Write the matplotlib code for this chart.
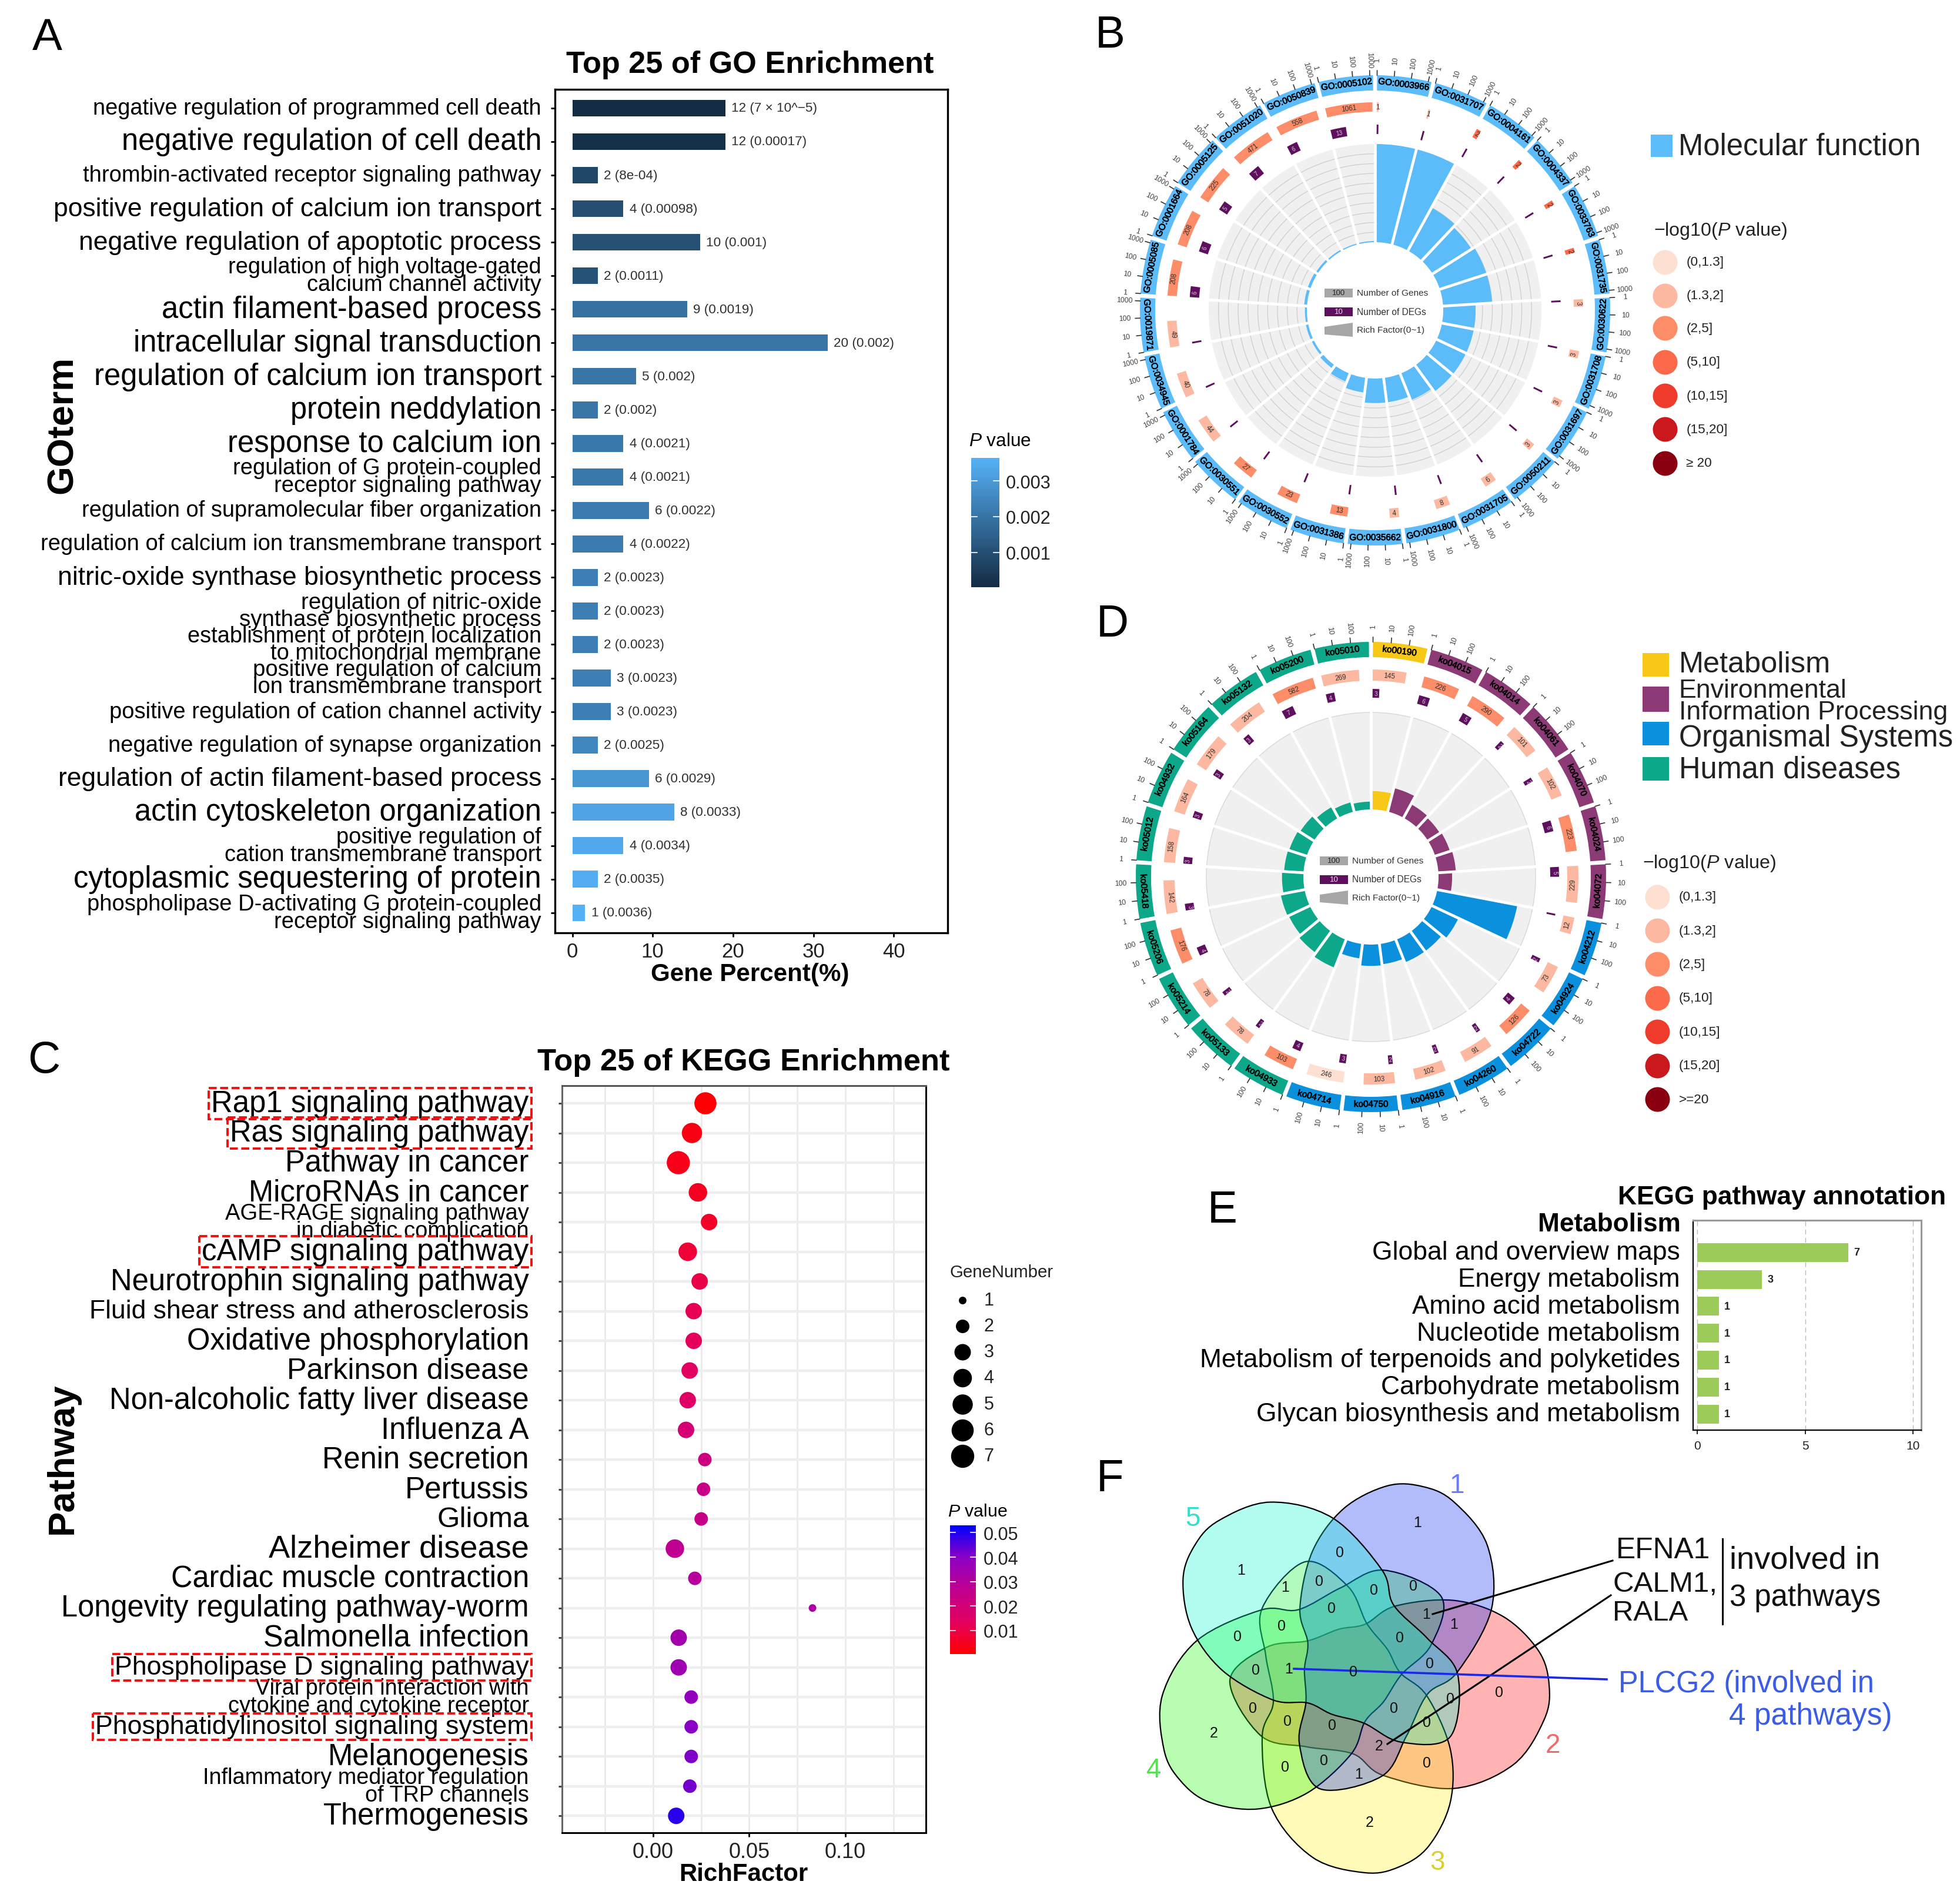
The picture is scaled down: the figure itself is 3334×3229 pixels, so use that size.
import numpy as np
import matplotlib
matplotlib.use('Agg')
import matplotlib.pyplot as plt
import matplotlib.patheffects as pe
from matplotlib.cm import ScalarMappable
from matplotlib.colors import LinearSegmentedColormap, Normalize, to_rgba
from matplotlib.patches import PathPatch, Polygon, Rectangle
from matplotlib.path import Path

plt.rcParams['font.family'] = ['Liberation Sans', 'DejaVu Sans']
plt.rcParams['mathtext.fontset'] = 'custom'
plt.rcParams['mathtext.rm'] = 'Liberation Sans'
plt.rcParams['mathtext.it'] = 'Liberation Sans:italic'
plt.rcParams['mathtext.bf'] = 'Liberation Sans:bold'

# panel A
go_terms = ['negative regulation of programmed cell death', 'negative regulation of cell death',
            'thrombin-activated receptor signaling pathway', 'positive regulation of calcium ion transport',
            'negative regulation of apoptotic process', 'regulation of high voltage-gated\ncalcium channel activity',
            'actin filament-based process', 'intracellular signal transduction',
            'regulation of calcium ion transport', 'protein neddylation', 'response to calcium ion',
            'regulation of G protein-coupled\nreceptor signaling pathway',
            'regulation of supramolecular fiber organization',
            'regulation of calcium ion transmembrane transport',
            'nitric-oxide synthase biosynthetic process',
            'regulation of nitric-oxide\nsynthase biosynthetic process',
            'establishment of protein localization\nto mitochondrial membrane',
            'positive regulation of calcium\nion transmembrane transport',
            'positive regulation of cation channel activity', 'negative regulation of synapse organization',
            'regulation of actin filament-based process', 'actin cytoskeleton organization',
            'positive regulation of\ncation transmembrane transport', 'cytoplasmic sequestering of protein',
            'phospholipase D-activating G protein-coupled\nreceptor signaling pathway']
go_counts = [12, 12, 2, 4, 10, 2, 9, 20, 5, 2, 4, 4, 6, 4, 2, 2, 2, 3, 3, 2, 6, 8, 4, 2, 1]
go_percent = [19.05, 19.05, 3.17, 6.35, 15.87, 3.17, 14.29, 31.75, 7.94, 3.17, 6.35, 6.35, 9.52, 6.35,
              3.17, 3.17, 3.17, 4.76, 4.76, 3.17, 9.52, 12.7, 6.35, 3.17, 1.59]
go_pvalues = [0.00007, 0.00017, 0.0008, 0.00098, 0.001, 0.0011, 0.0019, 0.002, 0.002, 0.002, 0.0021, 0.0021,
              0.0022, 0.0022, 0.0023, 0.0023, 0.0023, 0.0023, 0.0023, 0.0025, 0.0029, 0.0033, 0.0034, 0.0035, 0.0036]
go_ptext = ['7 × 10^−5', '0.00017', '8e-04', '0.00098', '0.001', '0.0011', '0.0019', '0.002', '0.002', '0.002',
            '0.0021', '0.0021', '0.0022', '0.0022', '0.0023', '0.0023', '0.0023', '0.0023', '0.0023', '0.0025',
            '0.0029', '0.0033', '0.0034', '0.0035', '0.0036']
go_widths = [361, 338, 367, 392, 371, 252, 305, 329, 360, 202, 252, 247, 370, 402, 388, 242, 284, 232,
             347, 347, 388, 327, 254, 376, 364]

# panel C
pathways = ['Rap1 signaling pathway', 'Ras signaling pathway', 'Pathway in cancer', 'MicroRNAs in cancer',
            'AGE-RAGE signaling pathway\nin diabetic complication', 'cAMP signaling pathway',
            'Neurotrophin signaling pathway', 'Fluid shear stress and atherosclerosis',
            'Oxidative phosphorylation', 'Parkinson disease', 'Non-alcoholic fatty liver disease', 'Influenza A',
            'Renin secretion', 'Pertussis', 'Glioma', 'Alzheimer disease', 'Cardiac muscle contraction',
            'Longevity regulating pathway-worm', 'Salmonella infection', 'Phospholipase D signaling pathway',
            'Viral protein interaction with\ncytokine and cytokine receptor',
            'Phosphatidylinositol signaling system', 'Melanogenesis',
            'Inflammatory mediator regulation\nof TRP channels', 'Thermogenesis']
rich_factor = [0.0272, 0.0202, 0.0131, 0.0233, 0.0291, 0.018, 0.0242, 0.0211, 0.0211, 0.019, 0.018, 0.0171, 0.0269,
               0.0262, 0.025, 0.0113, 0.0217, 0.0829, 0.0133, 0.0133, 0.0198, 0.0198, 0.0198, 0.0191, 0.012]
gene_number = [6, 5, 7, 4, 3, 4, 3, 3, 3, 3, 3, 3, 2, 2, 2, 4, 2, 1, 3, 3, 2, 2, 2, 2, 3]
kegg_pvalues = [0.001, 0.003, 0.004, 0.005, 0.006, 0.008, 0.01, 0.012, 0.013, 0.014, 0.015, 0.019, 0.022, 0.024,
                0.025, 0.027, 0.029, 0.031, 0.034, 0.035, 0.038, 0.04, 0.041, 0.042, 0.049]
pathway_widths = [255, 240, 196, 225, 243, 262, 336, 353, 275, 194, 337, 119, 166, 99, 74, 209, 288, 376, 214,
                  332, 242, 348, 161, 262, 165]
boxed_pathways = ['Rap1 signaling pathway', 'Ras signaling pathway', 'cAMP signaling pathway',
                  'Phospholipase D signaling pathway', 'Phosphatidylinositol signaling system']
dot_diameter = {1: 13, 2: 23, 3: 28, 4: 31.5, 5: 34.5, 6: 37.6, 7: 39.4}

# panel B
go_ids = ['GO:0003966', 'GO:0031707', 'GO:0004161', 'GO:0004337', 'GO:0033763', 'GO:0031735', 'GO:0030622',
          'GO:0031708', 'GO:0031697', 'GO:0050211', 'GO:0031705', 'GO:0031800', 'GO:0035662', 'GO:0031386',
          'GO:0030552', 'GO:0030551', 'GO:0001784', 'GO:0034945', 'GO:0019871', 'GO:0005085', 'GO:0001664',
          'GO:0005125', 'GO:0051020', 'GO:0050839', 'GO:0005102']
b_genes = [1, 1, 2, 2, 2, 2, 3, 3, 3, 3, 6, 8, 4, 13, 23, 27, 44, 40, 49, 208, 208, 225, 471, 558, 1061]
b_degs = [1, 1, 1, 1, 1, 1, 1, 1, 1, 1, 1, 1, 1, 1, 1, 1, 1, 1, 1, 6, 6, 5, 7, 6, 13]
b_rich = [1.0, 1.0, 0.5, 0.47, 0.5, 0.5, 0.33, 0.33, 0.33, 0.33, 0.29, 0.25, 0.25, 0.15, 0.09, 0.04, 0.023, 0.025,
          0.02, 0.029, 0.029, 0.022, 0.015, 0.011, 0.012]
b_classes = [1, 1, 3, 3, 3, 3, 1, 1, 1, 1, 1, 1, 1, 2, 2, 2, 1, 1, 1, 2, 2, 2, 2, 2, 2]

# panel D
ko_ids = ['ko00190', 'ko04015', 'ko04014', 'ko04061', 'ko04070', 'ko04024', 'ko04072', 'ko04212', 'ko04924',
          'ko04722', 'ko04260', 'ko04916', 'ko04750', 'ko04714', 'ko04933', 'ko05133', 'ko05214', 'ko05206',
          'ko05418', 'ko05012', 'ko04932', 'ko05164', 'ko05132', 'ko05200', 'ko05010']
d_genes = [145, 226, 290, 101, 102, 223, 229, 12, 73, 126, 91, 102, 103, 246, 103, 78, 78, 176, 142, 158, 164,
           179, 204, 582, 269]
d_degs = [3, 6, 5, 2, 2, 6, 5, 1, 2, 4, 2, 2, 2, 3, 4, 2, 2, 4, 3, 3, 3, 3, 3, 7, 4]
d_rich = [0.19, 0.25, 0.16, 0.145, 0.16, 0.18, 0.14, 0.84, 0.30, 0.25, 0.25, 0.21, 0.22, 0.15, 0.31, 0.27, 0.24,
          0.25, 0.22, 0.20, 0.19, 0.17, 0.13, 0.10, 0.08]
d_classes = [1, 2, 2, 1, 1, 2, 1, 1, 1, 2, 1, 1, 1, 0, 2, 1, 1, 2, 1, 1, 1, 1, 1, 2, 1]
d_groups = [0] * 1 + [1] * 6 + [2] * 7 + [3] * 11
group_names = ['Metabolism', 'Environmental\nInformation Processing', 'Organismal Systems', 'Human diseases']
group_colors = ['#f7c815', '#8b3a76', '#0a90dc', '#0da78a']

p_classes = ['(0,1.3]', '(1.3,2]', '(2,5]', '(5,10]', '(10,15]', '(15,20]']
p_colors = ['#fde0d2', '#fcb8a0', '#fc8d68', '#fb6a4a', '#ef3b2c', '#cb181d', '#8b0010']

# panel E
metabolism_names = ['Global and overview maps', 'Energy metabolism', 'Amino acid metabolism', 'Nucleotide metabolism',
                    'Metabolism of terpenoids and polyketides', 'Carbohydrate metabolism',
                    'Glycan biosynthesis and metabolism']
metabolism_counts = [7, 3, 1, 1, 1, 1, 1]
metabolism_widths = [524, 379, 458, 449, 818, 509, 721]

# panel F
venn_counts = [1, 0, 1, 1, 0, 0, 0, 1, 1, 0, 0, 0, 0, 0, 1, 0, 0, 0, 0, 0, 0, 0, 0, 0, 2, 2, 0, 0, 0, 1, 2]
venn_xy = [(2411, 2591), (2279, 2642), (2111, 2672), (2186, 2701), (2244, 2691), (2337, 2706), (2404, 2699),
           (2426, 2747), (2473, 2764), (2265, 2737), (2180, 2767), (2105, 2785), (2381, 2787), (2136, 2842),
           (2192, 2840), (2302, 2845), (2432, 2831), (2550, 2880), (2467, 2891), (2131, 2907), (2371, 2907),
           (2190, 2929), (2266, 2936), (2427, 2931), (2065, 2949), (2346, 2971), (2427, 3000), (2252, 2996),
           (2186, 3007), (2311, 3019), (2330, 3101)]
# outline of petal 3, the others are the same thing turned by 72 degrees
petal_outline = [(-75, -189), (-148, -110), (-142, -30), (-129, 49), (-148, 109), (-132, 230), (-62, 314), (27, 340),
                 (85, 330), (135, 295), (172, 220), (172, 130), (132, 39), (87, 0), (65, -40), (30, -84), (-2, -147)]
petal_turns = [4, 0, 1, 3, 2]  # drawn 2, 3, 4, 1, 5, this order gives the teal middle
petal_fill = ['#ff0505', '#fff012', '#16fa00', '#0223f2', '#00fad0']
petal_names = ['1', '2', '3', '4', '5']
petal_text = ['#6a7bff', '#f06a6a', '#d8d030', '#55e055', '#30e0c8']
petal_name_xy = [(2478, 2528), (2641, 2970), (2445, 3169), (1963, 3012), (2029, 2584)]

W, H = 3334, 3230
SCALE = W / 1568
fig = plt.figure(figsize=(W / 100, H / 100), dpi=100)
renderer = fig.canvas.get_renderer()


def px_axes(left, top, right, bottom, **kw):
    return fig.add_axes([left / W, 1 - bottom / H, (right - left) / W, (bottom - top) / H], **kw)


def fit(t, target, vertical=False):
    bb = t.get_window_extent(renderer)
    t.set_fontsize(t.get_fontsize() * target / (bb.height if vertical else bb.width))
    return t


def fit_labels(ax, widths, spacing=0.78):
    for t, w in zip(ax.get_yticklabels(), widths):
        t.set_multialignment('right')
        t.set_linespacing(spacing)
        t.set_verticalalignment('center')
        fit(t, w * SCALE)


over = fig.add_axes([0, 0, 1, 1], zorder=10)
over.set_xlim(0, W)
over.set_ylim(H, 0)
over.axis('off')
over.set_autoscale_on(False)


def put(x, y, s, width=None, size=20, ha='left', vertical=False, **kw):
    kw.setdefault('va', 'center')
    t = over.text(x, y, s, ha=ha, fontsize=size, **kw)
    if width is not None:
        fit(t, width, vertical)
    return t


for letter, x, y in zip('ABCDEF', [38, 888, 35, 890, 978, 888], [31, 29, 849, 500, 969, 1184]):
    put(x * SCALE, y * SCALE, letter, size=55, ha='center')

# ---- A: GO bars
ax = px_axes(944, 153, 1612, 1588)
blues = LinearSegmentedColormap.from_list('blues', ['#132B43', '#56B1F7'])
go_norm = Normalize(0.00003, 0.00364)
ypos = np.arange(len(go_terms))
ax.barh(ypos, go_percent, height=0.5, color=blues(go_norm(go_pvalues)))
for y, v, n, p in zip(ypos, go_percent, go_counts, go_ptext):
    ax.text(v + 0.75, y, f'{n} ({p})', va='center', fontsize=16.2, color='#303030')
ax.set_xlim(-2.16, 46.7)
ax.set_ylim(24.6, -0.56)
ax.set_xticks([0, 10, 20, 30, 40])
ax.set_yticks(ypos, go_terms)
ax.tick_params(axis='x', labelsize=25, length=5, width=2, pad=6, labelcolor='#222222')
ax.tick_params(axis='y', length=5, width=2, pad=11.5)
for s in ax.spines.values():
    s.set_linewidth(2.4)
fit_labels(ax, go_widths)
put(600 * SCALE, 52 * SCALE, 'Top 25 of GO Enrichment', 627, ha='center', fontweight='bold')
put(600 * SCALE, 780 * SCALE, 'Gene Percent(%)', 338, ha='center', fontweight='bold')
put(106, 723, 'GOterm', 234, ha='center', rotation=90, vertical=True, fontweight='bold')


def p_colorbar(box, cmap, norm, ticks, pad, labels):
    cax = px_axes(*box)
    cb = fig.colorbar(ScalarMappable(norm=norm, cmap=cmap), cax=cax)
    cb.set_ticks(ticks, labels=labels)
    cb.outline.set_visible(False)
    cax.tick_params(length=0, pad=pad, labelsize=22, labelcolor='#222222')
    for t in ticks:
        cax.plot([0, 0.2], [t, t], color='white', lw=1.2, transform=cax.get_yaxis_transform())
        cax.plot([0.8, 1], [t, t], color='white', lw=1.2, transform=cax.get_yaxis_transform())


p_colorbar((1652, 780, 1700, 1000), blues, go_norm, [0.001, 0.002, 0.003], 8, ['0.001', '0.002', '0.003'])
put(1648, 751, r'$\mathit{P}$ value', 106)

# ---- C: KEGG dots
ax = px_axes(956, 1848, 1575, 3119)
reds = LinearSegmentedColormap.from_list('rb', ['#ff0000', '#e3005f', '#c0008f', '#8c00c4', '#0000ff'])
kegg_norm = Normalize(0.0003, 0.053)
ypos = np.arange(len(pathways))
sizes = [(dot_diameter[n] * 0.72) ** 2 for n in gene_number]
ax.scatter(rich_factor, ypos, s=sizes, c=kegg_pvalues, cmap=reds, norm=kegg_norm, zorder=3, linewidths=0)
ax.set_xlim(-0.0474, 0.1419)
ax.set_ylim(24.57, -0.594)
ax.set_xticks([0, 0.05, 0.1], ['0.00', '0.05', '0.10'])
ax.set_xticks([-0.025, 0.025, 0.075, 0.125], minor=True)
ax.set_yticks(ypos, pathways)
ax.grid(True, axis='y', color='#eeeeee', lw=3.2)
ax.grid(True, axis='x', which='both', color='#e8e8e8', lw=1.8)
ax.set_axisbelow(True)
ax.tick_params(axis='x', which='major', labelsize=26, length=5, width=2, pad=6, labelcolor='#222222')
ax.tick_params(axis='x', which='minor', length=0)
ax.tick_params(axis='y', length=4.5, width=2.2, pad=36, color='#444444')
ax.spines['left'].set_color('#666666')
ax.spines['top'].set_color('#555555')
for s in ax.spines.values():
    s.set_linewidth(2.2)
fit_labels(ax, pathway_widths)
kegg_ax = ax
put(595 * SCALE, 850 * SCALE, 'Top 25 of KEGG Enrichment', 702, ha='center', fontweight='bold')
put(595 * SCALE, 1500 * SCALE, 'RichFactor', 219, ha='center', fontweight='bold')
put(106, 2481, 'Pathway', 257, ha='center', rotation=90, vertical=True, fontweight='bold')
put(760 * SCALE, 1018 * SCALE, 'GeneNumber', 176, color='#222222')
for n, d in dot_diameter.items():
    y = (1041 + (n - 1) * 20.7) * SCALE
    over.scatter([770 * SCALE], [y], s=(d * 0.72) ** 2, color='black', linewidths=0)
    put(787 * SCALE, y, str(n), size=22, color='#222222')
p_colorbar((1616, 2596, 1660, 2815), reds, kegg_norm, [0.01, 0.02, 0.03, 0.04, 0.05], 9,
           ['0.01', '0.02', '0.03', '0.04', '0.05'])
put(1612, 2572, r'$\mathit{P}$ value', 102)


# ---- B and D: circular plots
def ring_rot(deg):
    deg = deg % 360
    return -deg if deg < 90 or deg > 270 else 180 - deg


def tick_rot(deg):
    deg = deg % 360
    return 90 - deg if deg < 180 else 270 - deg


def circle_panel(cx, cy, names, genes, degs, rich, classes, colors, ticks, per_decade, inner, gene_r, deg_r,
                 max_r, rings):
    R = 450
    ax = px_axes(cx - R, cy - R, cx + R, cy + R, projection='polar')
    ax.set_theta_zero_location('N')
    ax.set_theta_direction(-1)
    ax.set_ylim(0, R)
    ax.axis('off')
    sector = 360 / len(names)
    span = sector - 1.0
    arc = np.radians(np.linspace(0, sector, 30))
    heavier = [pe.withStroke(linewidth=0.5, foreground='black')]
    for i, name in enumerate(names):
        th0 = i * sector + 0.5
        t0 = np.radians(th0)
        mid = th0 + span / 2
        # outer ring with its scale
        ax.bar(t0, 26, width=np.radians(span), bottom=374, align='edge', color=colors[i], linewidth=0)
        ax.text(np.radians(mid), 387, name, rotation=ring_rot(mid), rotation_mode='anchor', ha='center',
                va='center', fontsize=11, color='black', path_effects=heavier)
        for v in ticks:
            th = th0 + np.log10(v) * per_decade
            ax.plot([np.radians(th)] * 2, [400, 408], color='#333333', lw=1.2)
            ax.text(np.radians(th), 426, str(v), rotation=tick_rot(th), rotation_mode='anchor', ha='center',
                    va='center', fontsize=8.8, color='#444444')
        # genes ring
        gw = max(np.log10(genes[i]) * 4.35, 0.5)
        ax.bar(t0, gene_r[1] - gene_r[0], width=np.radians(gw), bottom=gene_r[0], align='edge',
               color=p_colors[classes[i]], linewidth=0)
        gmid = th0 + gw / 2
        ax.text(np.radians(gmid), sum(gene_r) / 2, str(genes[i]), rotation=ring_rot(gmid), rotation_mode='anchor',
                ha='center', va='center', fontsize=8.4, color='#333333')
        # DEG ring
        dw = max(np.log10(degs[i]) * 4.35, 0.55)
        ax.bar(t0, deg_r[1] - deg_r[0], width=np.radians(dw), bottom=deg_r[0], align='edge', color='#5e0f5e',
               linewidth=0)
        if degs[i] > 1:
            dmid = th0 + dw / 2
            ax.text(np.radians(dmid), sum(deg_r) / 2, str(degs[i]), rotation=ring_rot(dmid), rotation_mode='anchor',
                    ha='center', va='center', fontsize=7.2, color='#d8c8d8')
        # rich factor sector, the white spokes below make the gaps even
        ax.bar(t0 - np.radians(0.5), max_r - inner, width=np.radians(sector), bottom=inner, align='edge',
               color='#f0f0f0', linewidth=0)
        for k in range(1, rings):
            ax.plot(t0 - np.radians(0.5) + arc, np.full(30, inner + (max_r - inner) * k / rings), color='#d0d0d0',
                    lw=1.0)
        if rings == 1:
            ax.plot(t0 - np.radians(0.5) + arc, np.full(30, max_r), color='#d8d8d8', lw=1.0)
        ax.bar(t0 - np.radians(0.5), (max_r - inner) * rich[i], width=np.radians(sector), bottom=inner, align='edge',
               color=colors[i], linewidth=0, zorder=3)
    for i in range(len(names)):
        th = np.radians(i * sector)
        ax.plot([th, th], [inner - 3, max_r + 3], color='white', lw=3.4, zorder=4, solid_capstyle='butt')
    ax.set_ylim(0, R)


circle_panel(2339, 529, go_ids, b_genes, b_degs, b_rich, b_classes, ['#5cbbf9'] * 25, [1, 10, 100, 1000], 4.2, 116,
             (338, 354), (300, 316), 283, 10)
circle_panel(2332, 1493, ko_ids, d_genes, d_degs, d_rich, d_classes, [group_colors[g] for g in d_groups],
             [1, 10, 100], 4.45, 115, (334, 353), (305, 320), 280, 1)


def center_key(x0, x1, y1, y2, y3):
    h = 15
    over.add_patch(Rectangle((x0, y1 - h / 2), x1 - x0, h, color='#a6a6a6', lw=0))
    put((x0 + x1) / 2, y1, '100', size=9.5, ha='center', color='#222222')
    put(x1 + 7, y1, 'Number of Genes', 121, color='#333333')
    over.add_patch(Rectangle((x0, y2 - h / 2), x1 - x0, h, color='#5e0f5e', lw=0))
    put((x0 + x1) / 2, y2, '10', size=9.5, ha='center', color='#e6d8e6')
    put(x1 + 7, y2, 'Number of DEGs', 118, color='#333333')
    over.add_patch(Polygon([(x0, y3 - 5), (x1, y3 - 12), (x1, y3 + 12), (x0, y3 + 8)], color='#a6a6a6', lw=0))
    put(x1 + 7, y3, 'Rich Factor(0~1)', 115, color='#333333')


center_key(2253, 2301, 499, 531, 562)
center_key(2245, 2293, 1465, 1497, 1528)


def p_legend(x_title, y_title, x_dot, ys, x_text, last):
    put(x_title * SCALE, y_title * SCALE, '−log10($\\mathit{P}$ value)', 227, color='#222222')
    for y, c, s in zip(ys, p_colors, p_classes + [last]):
        over.scatter([x_dot * SCALE], [y * SCALE], s=(42 * 0.72) ** 2, color=c, linewidths=0)
        put(x_text * SCALE, y * SCALE, s, size=16.2, color='#222222')


over.add_patch(Rectangle((2808, 230), 37, 38, color='#5cbbf9', lw=0))
put(2855, 250, 'Molecular function', 412, color='#222222')
p_legend(1323, 185, 1332, [210, 237, 263, 290, 317, 344, 371], 1349, '≥ 20')

for y0, y1, c, name, yt, w in zip([523, 550, 578, 606], [542, 570, 597, 625], group_colors, group_names,
                                  [532, 561.5, 591, 616], [121, 215, 219, 177]):
    over.add_patch(Rectangle((1314 * SCALE, y0 * SCALE), 21 * SCALE, (y1 - y0) * SCALE, color=c, lw=0))
    put(1343 * SCALE, yt * SCALE, name, w * SCALE, color='#222222', linespacing=0.85)
p_legend(1314, 691, 1326, [718, 745, 772, 799, 826, 853, 880], 1343, '>=20')

# ---- E
ax = px_axes(2880, 2077, 3268, 2434)
ypos = np.arange(len(metabolism_names))
ax.barh(ypos, metabolism_counts, height=0.7, color='#9ccb5a', zorder=3)
for y, v in zip(ypos, metabolism_counts):
    ax.text(v + 0.25, y, str(v), va='center', fontsize=13, fontweight='bold', color='#222222')
ax.set_xlim(-0.19, 10.38)
ax.set_ylim(6.6, -1.2)
ax.set_xticks([0, 5, 10])
ax.set_yticks(ypos, metabolism_names)
ax.grid(True, axis='x', color='#bbbbbb', ls=(0, (6, 4)), lw=1.0)
ax.set_axisbelow(True)
ax.tick_params(axis='x', labelsize=15, length=5, width=1.2, pad=7, labelcolor='#222222')
ax.tick_params(axis='y', length=0, pad=16)
for side in ['top', 'right']:
    ax.spines[side].set_color('#999999')
    ax.spines[side].set_linewidth(2.2)
for side in ['left', 'bottom']:
    ax.spines[side].set_linewidth(1.6)
for t, w in zip(ax.get_yticklabels(), metabolism_widths):
    t.set_verticalalignment('center')
    fit(t, w)
put(3310, 2037, 'KEGG pathway annotation', 557, ha='right', fontweight='bold')
put(2859, 2084, 'Metabolism', 242, ha='right', fontweight='bold')


# ---- F: venn
def closed_spline(pts):
    n = len(pts)
    verts = [pts[0]]
    for i in range(n):
        p0, p1, p2, p3 = pts[i - 1], pts[i], pts[(i + 1) % n], pts[(i + 2) % n]
        verts += [p1 + (p2 - p0) / 6, p2 - (p3 - p1) / 6, p2]
    return Path(verts, [Path.MOVETO] + [Path.CURVE4] * (3 * n))


center = np.array([2295, 2847])
outline = np.array(petal_outline, float)
for turns, fill in zip(petal_turns, petal_fill):
    a = np.radians(72 * turns)
    rot = np.array([[np.cos(a), -np.sin(a)], [np.sin(a), np.cos(a)]])
    pts = outline @ rot.T + center
    over.add_patch(PathPatch(closed_spline(pts), facecolor=to_rgba(fill, 0.3), edgecolor='black', lw=1.6))
for (x, y), v in zip(venn_xy, venn_counts):
    put(x, y, str(v), size=18, ha='center', color='#111111')
for (x, y), s, c in zip(petal_name_xy, petal_names, petal_text):
    put(x, y, s, size=33, ha='center', color=c)

over.plot([2437, 2743], [2747, 2656], color='black', lw=2.2)
over.plot([2360, 2740], [2968, 2715], color='black', lw=2.2)
over.plot([2201, 2733], [2840, 2858], color='#1a28e8', lw=2.6)
over.plot([2930, 2930], [2619, 2764], color='black', lw=2.2)
put(2749, 2638, 'EFNA1', 160, color='#111111')
put(2743, 2696, 'CALM1,', 178, color='#111111')
put(2743, 2745, 'RALA', 128, color='#111111')
put(2942, 2655, 'involved in', 256, color='#111111')
put(2942, 2719, '3 pathways', 257, color='#111111')
put(2753, 2866, 'PLCG2 (involved in', 435, color='#3a5ce6')
put(3219, 2921, '4 pathways)', 277, ha='right', color='#3a5ce6')

# dashed red boxes round the highlighted pathways, taken from where the tick labels ended up
fig.canvas.draw()
for t in kegg_ax.get_yticklabels():
    if t.get_text() in boxed_pathways:
        bb = t.get_window_extent(renderer)
        over.add_patch(Rectangle((bb.x0 - 4, H - bb.y1 - 2), bb.width + 8, bb.height + 4, fill=False,
                                 edgecolor='#f01010', lw=2.8, ls=(0, (3.5, 1.5))))

fig.savefig('out.png', dpi=100, facecolor='white')
